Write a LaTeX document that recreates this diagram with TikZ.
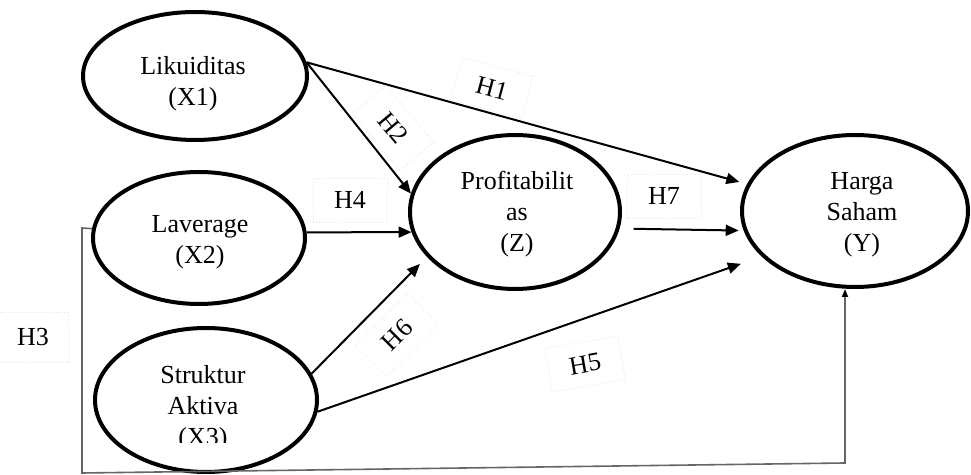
\documentclass[tikz,border=0pt]{standalone}
\usepackage{fontspec}
\setmainfont{Liberation Serif}
\usetikzlibrary{shapes.geometric,arrows.meta}
\begin{document}
\begin{tikzpicture}[x=0.5pt,y=-0.5pt,
  ell/.style={draw=black, line width=2pt, ellipse, inner sep=0pt},
  txt/.style={align=center, font=\fontsize{13}{15.5}\selectfont, inner sep=0pt},
  arr/.style={draw=black, line width=1pt, -{Triangle[length=6.5pt,width=5.5pt]}},
  hlab/.style={font=\fontsize{13}{15}\selectfont, draw=black!10, densely dotted, line width=0.4pt, minimum width=37pt, minimum height=22pt, inner sep=0pt},
  h3line/.style={draw=black!60, line width=0.8pt},
]
\useasboundingbox (0,0) rectangle (971,475);
\fill[white] (0,0) rectangle (971,475);

% ellipses
\node[ell, minimum width=112pt, minimum height=64pt] (x1) at (195,76) {};
\node[ell, minimum width=106pt, minimum height=66pt] (x2) at (199,238) {};
\node[ell, minimum width=111pt, minimum height=72pt] (x3) at (206,400) {};
\node[ell, minimum width=105pt, minimum height=77pt] (z) at (515,212) {};
\node[ell, minimum width=113pt, minimum height=76pt] (y) at (855,211) {};

% texts
\node[txt] (x1t) at (193,84) {Likuiditas\\(X1)};
\node[txt] (x2t) at (200,242) {Laverage\\(X2)};
\begin{scope}
\clip (100,330) rectangle (320,443);
\node[txt] (x3t) at (203,408) {Struktur\\Aktiva\\(X3)};
\end{scope}
\node[txt] (zt) at (517,214) {Profitabilit\\as\\(Z)};
\node[txt] (yt) at (862,215) {Harga\\Saham\\(Y)};

% connectors
\draw[arr, shorten >=4pt] (x1.7) -- (y.166);
\draw[arr] (x1.7) -- (z.170);
\draw[arr] (x2.3) -- (z.191);
\draw[arr, shorten >=5pt] (x3.14) -- (z.207);
\draw[arr, shorten >=11pt] (x3.-6) -- (y.206);
\draw[arr, shorten <=7pt, shorten >=2.5pt] (z.-9) -- (y.190);

% H3 path
\coordinate (h3a) at (82,228);
\coordinate (h3b) at (82,473);
\coordinate (h3c) at (845,463);
\draw[h3line, -{Triangle[length=4pt,width=3pt,color=black]}] (x2.175) -- (h3a) -- (h3b) -- (h3c) -- (h3c |- y.south);

% labels
\node[hlab, rotate=-15] (h1) at (492,88) {H1};
\node[hlab, rotate=-50] (h2) at (393,128) {H2};
\node[hlab] (h4) at (350,200) {H4};
\node[hlab] (h7) at (664,196) {H7};
\node[hlab, minimum width=35pt, minimum height=25pt] (h3) at (33,337) {H3};
\node[hlab, rotate=45] (h6) at (397,335) {H6};
\node[hlab, rotate=10] (h5) at (585,364) {H5};
\end{tikzpicture}
\end{document}
